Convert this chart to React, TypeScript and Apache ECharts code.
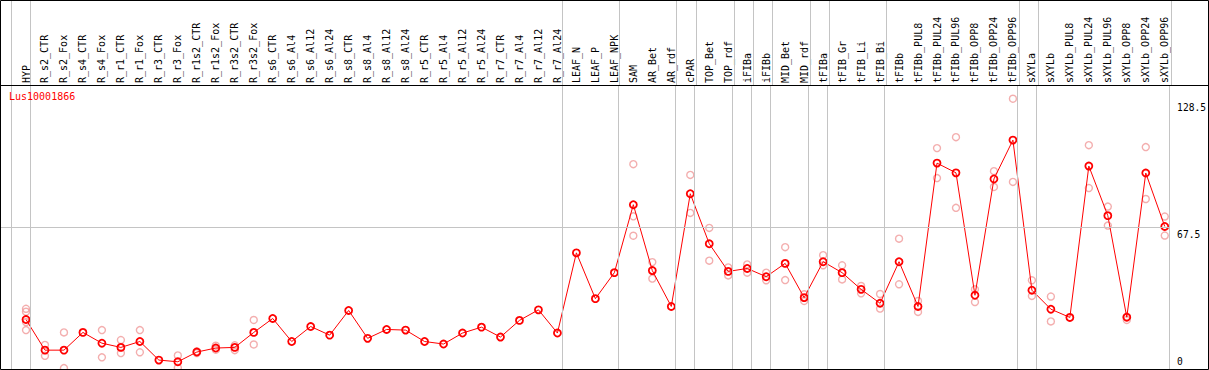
import React, { useEffect, useRef } from "react";
import * as echarts from "echarts";

const categories = [
  "HYP", "R_s2_CTR", "R_s2_Fox", "R_s4_CTR", "R_s4_Fox", "R_r1_CTR", "R_r1_Fox", "R_r3_CTR", "R_r3_Fox",
  "R_r1s2_CTR", "R_r1s2_Fox", "R_r3s2_CTR", "R_r3s2_Fox", "R_s6_CTR", "R_s6_Al4", "R_s6_Al12", "R_s6_Al24",
  "R_s8_CTR", "R_s8_Al4", "R_s8_Al12", "R_s8_Al24", "R_r5_CTR", "R_r5_Al4", "R_r5_Al12", "R_r5_Al24",
  "R_r7_CTR", "R_r7_Al4", "R_r7_Al12", "R_r7_Al24", "LEAF_N", "LEAF_P", "LEAF_NPK", "SAM", "AR_Bet", "AR_rdf",
  "cPAR", "TOP_Bet", "TOP_rdf", "iFIBa", "iFIBb", "MID_Bet", "MID_rdf", "tFIBa", "tFIB_Gr", "tFIB_Li", "tFIB_Bi",
  "tFIBb", "tFIBb_PUL8", "tFIBb_PUL24", "tFIBb_PUL96", "tFIBb_OPP8", "tFIBb_OPP24", "tFIBb_OPP96",
  "sXYLa", "sXYLb", "sXYLb_PUL8", "sXYLb_PUL24", "sXYLb_PUL96", "sXYLb_OPP8", "sXYLb_OPP24", "sXYLb_OPP96",
];

// sizes of the category groups separated by vertical lines
const groupSizes = [1, 28, 3, 3, 1, 2, 1, 1, 2, 1, 3, 7, 1, 7];

const means = [
  23.9, 9.4, 9.4, 17.8, 12.7, 10.7, 13.5, 4.7, 3.9, 8.5, 10.4, 10.7, 17.8,
  24.4, 13.5, 20.6, 16.5, 28.2, 15.0, 19.2, 18.9, 13.5, 12.3, 17.5, 20.3,
  15.6, 23.5, 28.5, 17.5, 55.5, 33.8, 46.1, 78.3, 47.1, 30.1, 83.5, 59.8,
  46.7, 48.1, 44.2, 50.5, 34.3, 51.3, 46.1, 38.2, 31.6, 51.3, 30.1, 98.0,
  93.4, 35.4, 90.5, 108.9, 37.8, 28.8, 24.9, 96.6, 73.1, 25.0, 93.3, 68.0,
];

const replicates: number[][] = [
  [29.0, 27.6, 22.7, 18.9], [11.9, 6.7], [17.8, 0.9], [], [18.9, 6.0], [14.2, 8.0], [18.9, 8.4], [],
  [6.9, 1.1], [8.8, 8.0], [11.5, 9.6], [11.7, 9.4], [23.7, 12.1],
  [], [], [], [], [], [], [], [], [], [], [], [], [], [], [], [],
  [], [], [],
  [97.5, 72.8, 63.6], [51.1, 43.3], [],
  [92.4, 74.4], [67.3, 51.8], [48.6, 44.8], [50.0, 46.1], [46.1, 42.5], [58.2, 42.6], [35.9, 32.7],
  [54.4, 49.6], [49.6, 42.9], [39.8, 36.3], [36.0, 29.1],
  [62.2, 40.6], [32.7, 27.5], [105.1, 90.9], [110.3, 76.8], [38.2, 32.2], [94.2, 86.7], [128.5, 89.1],
  [42.5, 35.1],
  [34.8, 23.0], [], [106.5, 86.2], [77.4, 68.4], [25.3, 23.7], [105.6, 81.0], [72.7, 63.7],
];

const yTicks = [0, 67.5, 128.5];
const refLine = 67.5;
const geneName = "Lus10001866";

const MONO = "DejaVu Sans Mono";

export default function App() {
  const ref = useRef<HTMLDivElement>(null);

  useEffect(() => {
    if (!ref.current) return;
    const chart = echarts.init(ref.current, undefined, { renderer: "svg" });

    const xMin = -1.37;
    const xMax = 60.23;
    const sepOffset = 0.23;
    const boundaries: number[] = [-1 + sepOffset];
    let acc = 0;
    groupSizes.forEach((s) => {
      acc += s;
      boundaries.push(acc - 1 + sepOffset);
    });
    const vLines = boundaries.map((b) => ({ xAxis: b }));

    const meanData = means.map((v, i) => [i, v]);
    const repData: number[][] = [];
    replicates.forEach((arr, i) => arr.forEach((v) => repData.push([i, v])));

    const lineStyleGray = { color: "#c4c4c4", width: 1, type: "solid" as const };

    chart.setOption({
      animation: false,
      backgroundColor: "#fff",
      title: {
        text: geneName,
        left: 9,
        top: 91,
        padding: 0,
        textStyle: { color: "#ff0000", fontSize: 10, fontFamily: MONO, fontWeight: "normal" },
      },
      grid: [
        { left: 0, right: 38, top: 85, bottom: -1 },
        { left: 0, right: 38, top: 0, height: 85 },
      ],
      xAxis: [
        {
          type: "value",
          gridIndex: 0,
          position: "top",
          min: xMin,
          max: xMax,
          axisLine: { show: false },
          axisTick: { show: false },
          splitLine: { show: false },
          axisLabel: {
            customValues: categories.map((_, i) => i),
            formatter: (v: number) => categories[Math.round(v)] ?? "",
            rotate: 90,
            margin: 2,
            fontSize: 10,
            fontFamily: MONO,
            color: "#000",
            hideOverlap: false,
          },
        },
        {
          type: "value",
          gridIndex: 1,
          min: xMin,
          max: xMax,
          show: false,
        },
      ],
      yAxis: [
        {
          type: "value",
          gridIndex: 0,
          position: "right",
          min: 0,
          max: 135,
          axisLine: { show: false },
          axisTick: { show: false },
          splitLine: { show: false },
          axisLabel: {
            customValues: yTicks,
            margin: 8,
            fontSize: 9.6,
            fontFamily: MONO,
            color: "#000",
            formatter: (v: number) => {
              const key = v === yTicks[0] ? "lo" : v === yTicks[yTicks.length - 1] ? "hi" : "mid";
              return `{${key}|${v}}`;
            },
            rich: {
              lo: { fontSize: 9.6, fontFamily: MONO, color: "#000", padding: [0, 0, 18, 0] },
              mid: { fontSize: 9.6, fontFamily: MONO, color: "#000", padding: [13, 0, 0, 0] },
              hi: { fontSize: 9.6, fontFamily: MONO, color: "#000", padding: [17, 0, 0, 0] },
            },
          },
        },
        { type: "value", gridIndex: 1, min: 0, max: 1, show: false },
      ],
      graphic: [
        {
          type: "rect",
          shape: { x: 0.5, y: 0.5, width: 1208, height: 369 },
          style: { fill: "none", stroke: "#000", lineWidth: 1 },
          z: 100,
          silent: true,
        },
        {
          type: "line",
          shape: { x1: 0, y1: 85.5, x2: 1209, y2: 85.5 },
          style: { stroke: "#000", lineWidth: 1 },
          z: 100,
          silent: true,
        },
      ],
      series: [
        {
          type: "scatter",
          xAxisIndex: 1,
          yAxisIndex: 1,
          data: [[0, 0.5]],
          symbolSize: 0,
          silent: true,
          markLine: {
            silent: true,
            symbol: ["none", "none"],
            label: { show: false },
            lineStyle: lineStyleGray,
            data: vLines,
          },
        },
        {
          type: "scatter",
          xAxisIndex: 0,
          yAxisIndex: 0,
          data: [],
          silent: true,
          markLine: {
            silent: true,
            symbol: ["none", "none"],
            label: { show: false },
            lineStyle: lineStyleGray,
            data: [...vLines, { yAxis: refLine }],
          },
        },
        {
          name: "replicates",
          type: "scatter",
          xAxisIndex: 0,
          yAxisIndex: 0,
          data: repData,
          symbol: "circle",
          symbolSize: 7,
          itemStyle: { color: "rgba(0,0,0,0)", borderColor: "#f09a9a", borderWidth: 1.4 },
          z: 3,
        },
        {
          name: geneName,
          type: "line",
          xAxisIndex: 0,
          yAxisIndex: 0,
          data: meanData,
          symbol: "circle",
          symbolSize: 7,
          showAllSymbol: true,
          lineStyle: { color: "#ff0000", width: 1 },
          itemStyle: { color: "rgba(0,0,0,0)", borderColor: "#ff0000", borderWidth: 1.8 },
          z: 4,
        },
      ],
    });

    return () => chart.dispose();
  }, []);

  return (
    <div
      ref={ref}
      style={{ position: "fixed", left: 0, top: 0, width: 1209, height: 370 }}
    />
  );
}
